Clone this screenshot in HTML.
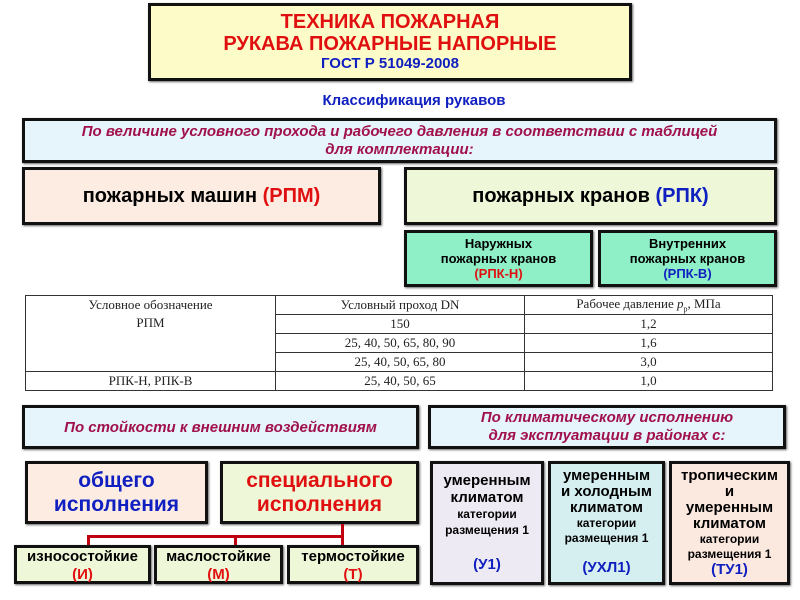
<!DOCTYPE html>
<html><head><meta charset="utf-8"><style>
body{margin:0;width:800px;height:600px;background:#fff;position:relative;overflow:hidden;font-family:"Liberation Sans","Noto Sans CJK SC",sans-serif;font-weight:bold}
.b{position:absolute;box-sizing:border-box;border:3px solid #111;display:flex;flex-direction:column;align-items:center;justify-content:center;text-align:center;box-shadow:1px 1px 2px #666}
.r{color:#e01010}.bl{color:#1020c0}.m{color:#a0104a;font-style:italic}
table{position:absolute;left:25px;top:295px;width:748px;border-collapse:collapse;font-family:"Liberation Serif",serif;font-weight:normal;font-size:13px;color:#222}
td{border:1px solid #333;text-align:center;height:18px;padding:0}
.l{position:absolute;background:#c00010}
</style></head><body>
<div class="b" style="left:148px;top:3px;width:484px;height:78px;background:#fdfbc8;line-height:22px">
<div class="r" style="font-size:20px">ТЕХНИКА ПОЖАРНАЯ</div>
<div class="r" style="font-size:20px">РУКАВА ПОЖАРНЫЕ НАПОРНЫЕ</div>
<div class="bl" style="font-size:15px;line-height:18px">ГОСТ Р 51049-2008</div></div>
<div class="bl" style="position:absolute;left:0;width:828px;top:92px;text-align:center;font-size:15px">Классификация рукавов</div>
<div class="b m" style="left:22px;top:118px;width:755px;height:45px;background:#e6f4fc;font-size:15px;line-height:18px">По величине условного прохода и рабочего давления в соответствии с таблицей<br>для комплектации:</div>
<div class="b" style="left:22px;top:167px;width:359px;height:58px;background:#fcece2;font-size:20px">
<span>пожарных машин <span class="r">(РПМ)</span></span></div>
<div class="b" style="left:404px;top:167px;width:373px;height:58px;background:#eef8d8;font-size:20px">
<span>пожарных кранов <span class="bl">(РПК)</span></span></div>
<div class="b" style="left:404px;top:230px;width:189px;height:57px;background:#8ff0c8;font-size:13px;line-height:15px">Наружных<br>пожарных кранов<br><span class="r">(РПК-Н)</span></div>
<div class="b" style="left:598px;top:230px;width:179px;height:57px;background:#8ff0c8;font-size:13px;line-height:15px">Внутренних<br>пожарных кранов<br><span class="bl">(РПК-В)</span></div>
<table>
<tr><td style="width:249px;border-bottom:none">Условное обозначение</td><td style="width:248px">Условный проход DN</td><td>Рабочее давление <i>p</i><sub style="font-size:8px">р</sub>, МПа</td></tr>
<tr><td style="border-top:none;border-bottom:none;vertical-align:top">РПМ</td><td>150</td><td>1,2</td></tr>
<tr><td style="border-top:none;border-bottom:none"></td><td>25, 40, 50, 65, 80, 90</td><td>1,6</td></tr>
<tr><td style="border-top:none"></td><td>25, 40, 50, 65, 80</td><td>3,0</td></tr>
<tr><td>РПК-Н, РПК-В</td><td>25, 40, 50, 65</td><td>1,0</td></tr>
</table>
<div class="b m" style="left:22px;top:405px;width:397px;height:44px;background:#e6f4fc;font-size:15px">По стойкости к внешним воздействиям</div>
<div class="b m" style="left:428px;top:405px;width:358px;height:44px;background:#e6f4fc;font-size:15px;line-height:18px">По климатическому исполнению<br>для эксплуатации в районах с:</div>
<div class="b bl" style="left:25px;top:461px;width:183px;height:63px;background:#fcece2;font-size:21px;line-height:24px">общего<br>исполнения</div>
<div class="b r" style="left:220px;top:461px;width:199px;height:63px;background:#eef8d8;font-size:21px;line-height:24px">специального<br>исполнения</div>
<div class="l" style="left:341px;top:524px;width:3px;height:22px"></div>
<div class="l" style="left:87px;top:535px;width:257px;height:3px"></div>
<div class="l" style="left:87px;top:535px;width:3px;height:11px"></div>
<div class="l" style="left:234px;top:535px;width:3px;height:11px"></div>
<div class="b" style="left:14px;top:545px;width:137px;height:39px;background:#eef8d8;font-size:15px;line-height:18px;justify-content:flex-start">износостойкие<br><span class="r">(И)</span></div>
<div class="b" style="left:154px;top:545px;width:129px;height:39px;background:#eef8d8;font-size:15px;line-height:18px;justify-content:flex-start">маслостойкие<br><span class="r">(М)</span></div>
<div class="b" style="left:287px;top:545px;width:132px;height:39px;background:#eef8d8;font-size:15px;line-height:18px;justify-content:flex-start">термостойкие<br><span class="r">(Т)</span></div>
<div class="b" style="left:430px;top:461px;width:114px;height:124px;background:#eeeaf3;font-size:15px;line-height:17px;justify-content:flex-start;padding-top:8px">умеренным<br>климатом<div style="font-size:12px;line-height:16px">категории<br>размещения 1</div><div class="bl" style="margin-top:18px">(У1)</div></div>
<div class="b" style="left:548px;top:461px;width:117px;height:124px;background:#d5eef0;font-size:15px;line-height:16px;justify-content:flex-start;padding-top:4px">умеренным<br>и холодным<br>климатом<div style="font-size:12px;line-height:15px">категории<br>размещения 1</div><div class="bl" style="margin-top:14px">(УХЛ1)</div></div>
<div class="b" style="left:669px;top:461px;width:121px;height:124px;background:#fbe9df;font-size:15px;line-height:16px;justify-content:flex-start;padding-top:4px">тропическим<br>и<br>умеренным<br>климатом<div style="font-size:12px;line-height:15px">категории<br>размещения 1</div><div class="bl">(ТУ1)</div></div>
</body></html>
